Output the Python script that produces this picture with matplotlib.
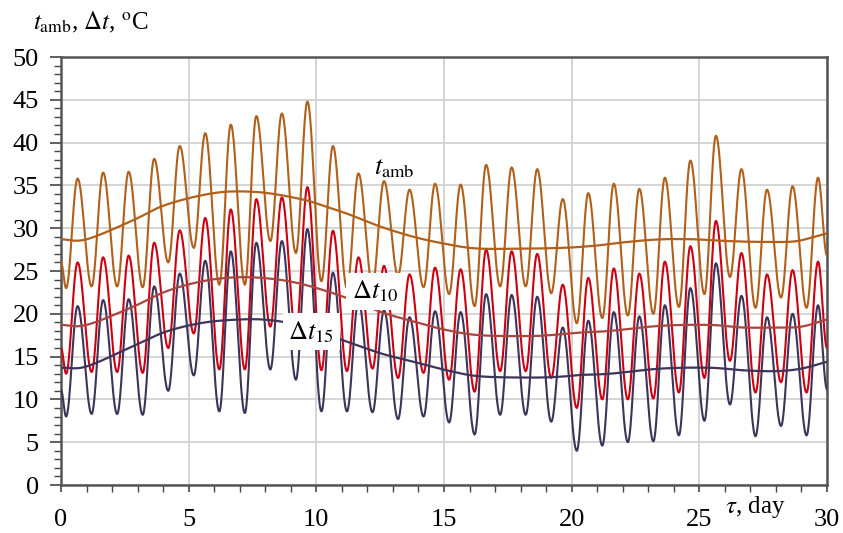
import numpy as np
import matplotlib
matplotlib.use("Agg")
import matplotlib.pyplot as plt
from matplotlib.ticker import MultipleLocator

plt.rcParams["font.family"] = ["Liberation Serif", "DejaVu Serif"]
plt.rcParams["mathtext.fontset"] = "stix"

# DATOS

days = np.arange(30)
t_min_time = days + 0.2    # hora del minimo diario
t_max_time = days + 0.65   # hora del maximo diario

amb_max = [35.8, 36.5, 36.6, 38.1, 39.6, 41.1, 42.1, 43.1, 43.4, 44.8,
           39.6, 36.4, 35.5, 34.5, 35.2, 35.1, 37.4, 37.1, 36.9, 33.4,
           34.1, 35.2, 34.6, 35.9, 37.9, 40.8, 36.9, 34.5, 34.9, 35.9]
amb_min = [23.0, 23.2, 23.2, 23.1, 26.0, 27.7, 23.4, 23.4, 28.5, 27.1,
           23.8, 23.0, 23.5, 24.5, 23.1, 22.3, 20.9, 23.2, 23.2, 22.4,
           18.9, 19.5, 19.8, 20.0, 20.8, 22.3, 24.3, 20.7, 21.9, 20.7]
amb_ends = [26.0, 26.8]

d10_max = [26.0, 26.6, 26.8, 28.3, 29.75, 31.2, 32.2, 33.4, 33.6, 34.8,
           29.7, 26.6, 25.6, 24.6, 25.4, 25.2, 27.5, 27.3, 27.0, 23.4,
           24.2, 25.3, 24.7, 26.1, 27.9, 30.85, 27.1, 24.6, 25.1, 26.1]
d10_min = [13.0, 13.2, 13.2, 13.1, 16.0, 17.7, 13.5, 13.5, 18.5, 17.8,
           13.4, 13.3, 13.6, 12.5, 13.1, 12.3, 10.9, 13.3, 13.3, 12.5,
           9.0, 10.0, 10.0, 10.1, 10.8, 12.5, 14.5, 10.8, 12.0, 10.8]
d10_ends = [16.0, 16.0]

d15_max = [20.9, 21.6, 21.7, 23.2, 24.7, 26.2, 27.3, 28.3, 28.5, 29.9,
           24.8, 21.5, 20.4, 19.6, 20.3, 20.2, 22.3, 22.2, 22.0, 18.4,
           19.2, 20.2, 19.7, 21.0, 23.0, 25.9, 22.1, 19.6, 20.0, 21.0]
d15_min = [8.0, 8.3, 8.3, 8.2, 11.0, 12.8, 8.6, 8.4, 13.5, 12.3,
           8.6, 8.6, 8.5, 7.7, 8.0, 7.3, 5.9, 8.2, 8.2, 7.4,
           4.0, 4.6, 5.0, 5.1, 5.8, 7.5, 9.4, 5.7, 6.9, 5.8]
d15_ends = [11.1, 11.2]

# medias (curvas suaves)
avg_time = [0, 1.0, 2.8, 3.9, 5.0, 6.1, 7.0, 8.1, 9.4, 10.0, 11.2, 12.5, 13.8,
            15.0, 16.2, 17.7, 19.6, 20.9, 22.2, 23.5, 24.8, 26.1, 27.4, 28.7, 29.5, 30]
amb_avg = [28.7, 28.7, 30.9, 32.5, 33.5, 34.15, 34.3, 34.1, 33.4, 32.9, 31.7, 30.2, 29.0,
           28.2, 27.65, 27.6, 27.7, 27.95, 28.4, 28.7, 28.7, 28.5, 28.4, 28.45, 29.0, 29.4]
avg_time2 = [0, 1.0, 2.8, 4.1, 5.45, 6.75, 8.05, 9.4, 11.05, 12.5, 13.8, 15.1, 16.4,
             18.4, 19.55, 20.3, 21.5, 23.5, 25.4, 26.7, 28.0, 29.0, 30]
d10_avg = [18.7, 18.7, 20.8, 22.6, 23.75, 24.25, 24.15, 23.5, 22.0, 20.25, 19.1, 18.1, 17.5,
           17.4, 17.6, 17.8, 18.0, 18.6, 18.7, 18.4, 18.4, 18.5, 19.35]
d15_avg = [13.7, 13.85, 16.2, 17.9, 18.9, 19.3, 19.3, 18.6, 16.9, 15.4, 14.4, 13.4, 12.7,
           12.55, 12.65, 12.85, 13.0, 13.6, 13.7, 13.4, 13.3, 13.6, 14.4]


def daily_curve(mins, maxs, ends):
    # puntos extremos en orden temporal, unidos con medio coseno
    tt = [0.0]
    vv = [ends[0]]
    for i in range(len(days)):
        tt += [t_min_time[i], t_max_time[i]]
        vv += [mins[i], maxs[i]]
    tt.append(30.0)
    vv.append(ends[1])
    xs, ys = [], []
    for i in range(len(tt) - 1):
        s = np.linspace(0, 1, 30)
        xs.append(tt[i] + (tt[i + 1] - tt[i]) * s)
        ys.append(vv[i] + (vv[i + 1] - vv[i]) * (1 - np.cos(np.pi * s)) / 2)
    return np.concatenate(xs), np.concatenate(ys)


def smooth(tk, vk):
    # Catmull-Rom por los puntos leidos
    tk = np.asarray(tk, float)
    vk = np.asarray(vk, float)
    P = np.column_stack([tk, vk])
    P = np.vstack([2 * P[0] - P[1], P, 2 * P[-1] - P[-2]])
    out = []
    for i in range(1, len(P) - 2):
        p0, p1, p2, p3 = P[i - 1], P[i], P[i + 1], P[i + 2]
        s = np.linspace(0, 1, 20)[:, None]
        c = 0.5 * ((2 * p1) + (-p0 + p2) * s + (2 * p0 - 5 * p1 + 4 * p2 - p3) * s ** 2
                   + (-p0 + 3 * p1 - 3 * p2 + p3) * s ** 3)
        out.append(c)
    c = np.vstack(out)
    return c[:, 0], c[:, 1]


C_AMB = "#B0601A"
C_D10 = "#CC0010"
C_D10_AVG = "#A8453F"
C_D15 = "#3E3358"

fig = plt.figure(figsize=(8.43, 5.33), dpi=100)
ax = fig.add_axes([61 / 843, 48 / 533, 766 / 843, 428 / 533])

x, y = daily_curve(amb_min, amb_max, amb_ends)
ax.plot(x, y, color=C_AMB, lw=1.5, zorder=3)
x, y = daily_curve(d10_min, d10_max, d10_ends)
ax.plot(x, y, color=C_D10, lw=1.5, zorder=3)
x, y = daily_curve(d15_min, d15_max, d15_ends)
ax.plot(x, y, color=C_D15, lw=1.5, zorder=3)

x, y = smooth(avg_time, amb_avg)
ax.plot(x, y, color=C_AMB, lw=1.6, zorder=4)
x, y = smooth(avg_time2, d10_avg)
ax.plot(x, y, color=C_D10_AVG, lw=1.6, zorder=4)
x, y = smooth(avg_time2, d15_avg)
ax.plot(x, y, color=C_D15, lw=1.6, zorder=4)

ax.set_xlim(0, 30)
ax.set_ylim(0, 50)
ax.xaxis.set_major_locator(MultipleLocator(5))
ax.xaxis.set_minor_locator(MultipleLocator(1))
ax.yaxis.set_major_locator(MultipleLocator(5))
ax.yaxis.set_minor_locator(MultipleLocator(1))
ax.grid(True, which="major", color="#D2D2D2", lw=1.3, zorder=0)
ax.tick_params(axis="both", which="major", labelsize=19, direction="out",
               color="#444444", width=1.2)
ax.tick_params(axis="y", which="major", length=8, pad=8)
ax.tick_params(axis="x", which="major", length=5, pad=12)
ax.tick_params(axis="both", which="minor", direction="out", length=5,
               color="#444444", width=1.0)
for sp in ax.spines.values():
    sp.set_color("#555555")
    sp.set_linewidth(1.8)

# etiquetas
ax.text(13.05, 37.0, r"$t_{\rm amb}$", fontsize=19, ha="center", va="center", zorder=6)
ax.text(12.3, 22.6, r"$\Delta t_{10}$", fontsize=19, ha="center", va="center", zorder=6,
        bbox=dict(facecolor="white", edgecolor="none", pad=4))
ax.text(9.8, 17.9, r"$\Delta t_{15}$", fontsize=19, ha="center", va="center", zorder=6,
        bbox=dict(facecolor="white", edgecolor="none", pad=4))
fig.text(725 / 843, 1 - 507 / 533, r"$\tau$, day", fontsize=18, ha="left", va="center")
fig.text(33 / 843, 1 - 22 / 533, r"$t_{\rm amb}$, $\Delta t$, $^{\rm o}$C", fontsize=18,
         ha="left", va="center")

fig.savefig("out.png", dpi=100)
